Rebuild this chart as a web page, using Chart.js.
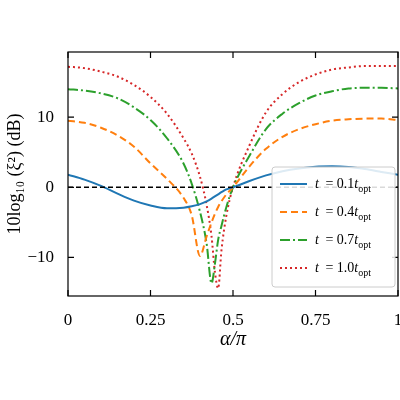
<!DOCTYPE html><html><head><script src="https://cdn.jsdelivr.net/npm/chart.js"></script>
<style>body{margin:0;background:#fff}#w{width:400px;height:400px}</style></head><body><div id="w"><canvas id="c"></canvas></div>
<script>
const alpha=[0,0.05,0.1,0.15,0.2,0.25,0.3,0.35,0.375,0.4,0.42,0.435,0.445,0.455,0.465,0.48,0.5,0.55,0.6,0.65,0.7,0.75,0.8,0.85,0.9,0.95,1];
const s01=[1.8,1.1,0.2,-0.9,-1.9,-2.6,-3,-2.9,-2.7,-2.4,-2.0,-1.6,-1.3,-1.0,-0.7,-0.3,0,0.9,1.7,2.3,2.7,2.95,3.0,2.9,2.6,2.2,1.8];
const s04=[9.5,9.2,8.5,7.4,5.8,3.4,1.2,-1.5,-4,-9.8,-7,-5,-3.8,-2.8,-2,-1,0,3,5.5,7.2,8.3,9.0,9.5,9.7,9.8,9.8,9.6];
const s07=[14,13.8,13.4,12.7,11.4,9.6,7,3.4,0.5,-3.5,-8,-13.7,-11,-7.5,-5.5,-2.8,0,4.5,8.3,10.5,12,13.1,13.7,14.1,14.2,14.2,14.1];
const s10=[17.2,17.0,16.5,15.8,14.6,12.9,10.5,7,4.8,1.5,-2.5,-7,-12,-14.4,-9,-4,0,6,10.7,13.3,15,16.1,16.8,17.1,17.3,17.3,17.3];
const xTicks=[0,0.25,0.5,0.75,1];const yTicks=[-10,0,10];
const labels=['0.1','0.4','0.7','1.0'];
const F='"Liberation Serif","DejaVu Serif",serif';
const mk=(d,c,dash)=>({data:alpha.map((a,i)=>({x:a,y:d[i]})),borderColor:c,borderDash:dash,borderWidth:2,pointRadius:0,cubicInterpolationMode:'monotone',fill:false});
const ds=[mk(s01,'#1f77b4',[]),mk(s04,'#ff7f0e',[7,4]),mk(s07,'#2ca02c',[10,3,2,3]),mk(s10,'#d62728',[2,3])];
ds.unshift({data:[{x:0,y:0},{x:1,y:0}],borderColor:'#000',borderDash:[5,3],borderWidth:1.5,pointRadius:0});
const deco={id:'deco',afterDraw(ch){const c=ch.ctx,a=ch.chartArea,xs=ch.scales.x,ys=ch.scales.y;c.save();c.strokeStyle='#000';c.lineWidth=1.2;c.strokeRect(a.left,a.top,a.right-a.left,a.bottom-a.top);
c.beginPath();xTicks.forEach(t=>{const p=xs.getPixelForValue(t);c.moveTo(p,a.bottom);c.lineTo(p,a.bottom-6);c.moveTo(p,a.top);c.lineTo(p,a.top+6);});
yTicks.forEach(t=>{const p=ys.getPixelForValue(t);c.moveTo(a.left,p);c.lineTo(a.left+6,p);c.moveTo(a.right,p);c.lineTo(a.right-6,p);});c.stroke();
const lx=272,ly=167,lw=123,lh=120;c.fillStyle='rgba(255,255,255,0.85)';c.strokeStyle='#ccc';c.lineWidth=1;c.beginPath();c.roundRect(lx,ly,lw,lh,3);c.fill();c.stroke();
for(let i=0;i<4;i++){const y=ly+17+i*28,d=ds[i+1];c.strokeStyle=d.borderColor;c.lineWidth=2;c.setLineDash(d.borderDash);c.beginPath();c.moveTo(lx+8,y);c.lineTo(lx+35,y);c.stroke();c.setLineDash([]);
c.fillStyle='#000';c.textBaseline='middle';c.textAlign='left';let x=lx+43;c.font='italic 14px '+F;c.fillText('t',x,y);x+=c.measureText('t').width+3;c.font='14px '+F;const s=' = '+labels[i];c.fillText(s,x,y);x+=c.measureText(s).width;c.font='italic 14px '+F;c.fillText('t',x,y);x+=c.measureText('t').width;c.font='10px '+F;c.fillText('opt',x,y+5);}
c.restore();}};
new Chart(document.getElementById('c'),{type:'line',data:{datasets:ds},plugins:[deco],options:{responsive:true,maintainAspectRatio:false,animation:false,layout:{padding:{top:52,right:2,bottom:44,left:0}},plugins:{legend:{display:false},tooltip:{enabled:false}},
scales:{x:{type:'linear',min:0,max:1,grid:{display:false},border:{display:false},afterBuildTicks:s=>{s.ticks=xTicks.map(v=>({value:v}))},afterFit:s=>{s.height=60;s.paddingRight=0;s.paddingLeft=0},ticks:{color:'#000',font:{family:F,size:17},maxRotation:0,padding:6,callback:v=>String(v)},title:{display:true,text:'α/π',color:'#000',font:{family:F,size:20,style:'italic'},padding:{top:0}}},
y:{min:-15.5,max:19.3,grid:{display:false},border:{display:false},afterBuildTicks:s=>{s.ticks=yTicks.map(v=>({value:v}))},afterFit:s=>{s.width=68},ticks:{color:'#000',font:{family:F,size:17},padding:6,callback:v=>v<0?'−'+(-v):String(v)},title:{display:true,text:'10log₁₀ (ξ²) (dB)',color:'#000',font:{family:F,size:18},padding:{bottom:0}}}}}});
</script></body></html>
